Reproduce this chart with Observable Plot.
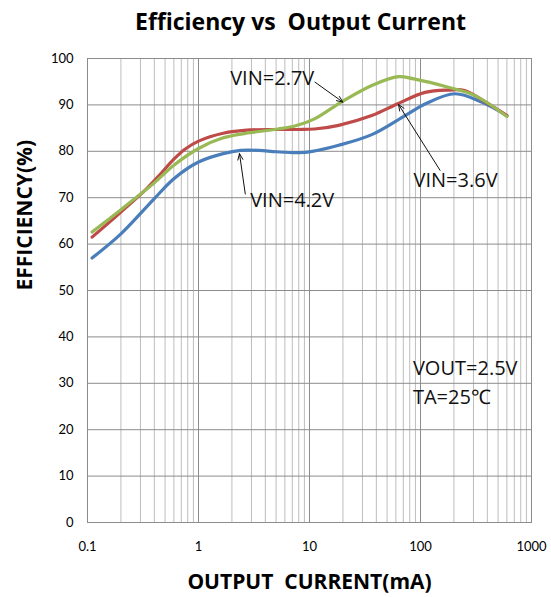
<!DOCTYPE html>
<html><head><meta charset="utf-8">
<script src="https://cdn.jsdelivr.net/npm/d3@7"></script>
<script src="https://cdn.jsdelivr.net/npm/@observablehq/plot@0.6"></script>
<style>body{margin:0;background:#fff}</style>
</head><body><div id="chart"></div>
<script>
// VIN = 4.2V (blue)
const vin42Current = [0.11, 0.2, 0.4, 0.6, 1, 1.67, 2.4, 3.5, 5, 8, 10.6, 18.3, 36.4, 72.7, 110, 205, 355, 600];
const vin42Eff     = [57.0, 62.2, 69.8, 74.1, 77.7, 79.5, 80.2, 80.2, 79.9, 79.7, 80.0, 81.3, 83.6, 87.7, 90.2, 92.4, 90.6, 87.7];
// VIN = 3.6V (red)
const vin36Current = [0.11, 0.2, 0.34, 0.45, 0.6, 0.76, 1, 1.67, 2.9, 5, 8, 11.1, 18.3, 36.4, 61.7, 110, 178, 250, 410, 600];
const vin36Eff     = [61.5, 66.9, 71.9, 75.0, 78.3, 80.5, 82.2, 83.9, 84.6, 84.7, 84.7, 84.8, 85.6, 87.7, 90.2, 92.7, 93.2, 93.1, 90.2, 87.7];
// VIN = 2.7V (green)
const vin27Current = [0.11, 0.2, 0.27, 0.4, 0.6, 1, 1.67, 2.9, 5.2, 7.5, 11.1, 19, 36.4, 63.5, 87, 178, 310, 600];
const vin27Eff     = [62.6, 67.4, 69.9, 73.2, 77.0, 80.6, 82.9, 84.0, 84.8, 85.5, 87.0, 90.5, 94.2, 96.1, 95.6, 93.8, 92.0, 87.5];

const xTicks = [0.1, 1, 10, 100, 1000];
const yTicks = [0, 10, 20, 30, 40, 50, 60, 70, 80, 90, 100];
const minorX = [];
for (const d of [0.1, 1, 10, 100]) for (let k = 2; k <= 9; k++) minorX.push(+(k * d).toPrecision(3));

const title = "Efficiency vs\u00a0 Output Current";
const xLabel = "OUTPUT\u00a0 CURRENT(mA)";
const yLabel = "EFFICIENCY(%)";

const labels = [
  {text: "VIN=2.7V", x: 1.93, y: 95.6},
  {text: "VIN=3.6V", x: 86.5, y: 73.7},
  {text: "VIN=4.2V", x: 2.92, y: 69.4},
  {text: "VOUT=2.5V", x: 85.5, y: 33.1},
  {text: "TA=25\u2103", x: 85.5, y: 26.9}
];
const arrows = [
  {x1: 11.2, y1: 94.9, x2: 20, y2: 90.6},
  {x1: 150, y1: 75.9, x2: 63.4, y2: 90.1},
  {x1: 2.64, y1: 70.8, x2: 2.34, y2: 79.5}
];

const mk = (xs, ys) => xs.map((x, i) => ({x, y: ys[i]}));
const bold = "'Open Sans', Lato, sans-serif";

const chart = Plot.plot({
  width: 551, height: 597,
  marginLeft: 87, marginRight: 20, marginTop: 58, marginBottom: 75,
  style: {fontFamily: "Lato, 'Open Sans', sans-serif", fontSize: "13px", background: "#fff"},
  x: {type: "log", domain: [0.1, 1000], ticks: xTicks, tickFormat: d => String(d), tickSize: 0, tickPadding: 19, label: null},
  y: {domain: [0, 100], ticks: yTicks, tickSize: 0, tickPadding: 14, label: null},
  marks: [
    Plot.gridX(minorX, {stroke: "#bdbdbd", strokeOpacity: 1}),
    Plot.gridX(xTicks, {stroke: "#8c8c8c", strokeOpacity: 1}),
    Plot.gridY(yTicks, {stroke: "#8c8c8c", strokeOpacity: 1}),
    Plot.frame({stroke: "#8c8c8c"}),
    Plot.line(mk(vin42Current, vin42Eff), {x: "x", y: "y", stroke: "#4a7ebb", strokeWidth: 3.2, curve: "catmull-rom"}),
    Plot.line(mk(vin36Current, vin36Eff), {x: "x", y: "y", stroke: "#be4b48", strokeWidth: 3.2, curve: "catmull-rom"}),
    Plot.line(mk(vin27Current, vin27Eff), {x: "x", y: "y", stroke: "#98b954", strokeWidth: 3.2, curve: "catmull-rom"}),
    Plot.arrow(arrows, {x1: "x1", y1: "y1", x2: "x2", y2: "y2", stroke: "#111", strokeWidth: 1, headLength: 10, headAngle: 45}),
    Plot.text(labels, {x: "x", y: "y", text: "text", textAnchor: "start", fontSize: 20, fontFamily: bold, fill: "#111"}),
    Plot.text([title], {text: d => d, frameAnchor: "top", lineAnchor: "middle", dx: -9, dy: -36, fontSize: 23, fontWeight: "bold", fontFamily: bold, fill: "#000"}),
    Plot.text([xLabel], {text: d => d, frameAnchor: "bottom", lineAnchor: "middle", dx: 0, dy: 60, fontSize: 21, fontWeight: "bold", fontFamily: bold, fill: "#000"}),
    Plot.text([yLabel], {text: d => d, frameAnchor: "left", dx: -62, rotate: -90, fontSize: 21, fontWeight: "bold", fontFamily: bold, fill: "#000"})
  ]
});
document.getElementById("chart").append(chart);
</script>
</body></html>
